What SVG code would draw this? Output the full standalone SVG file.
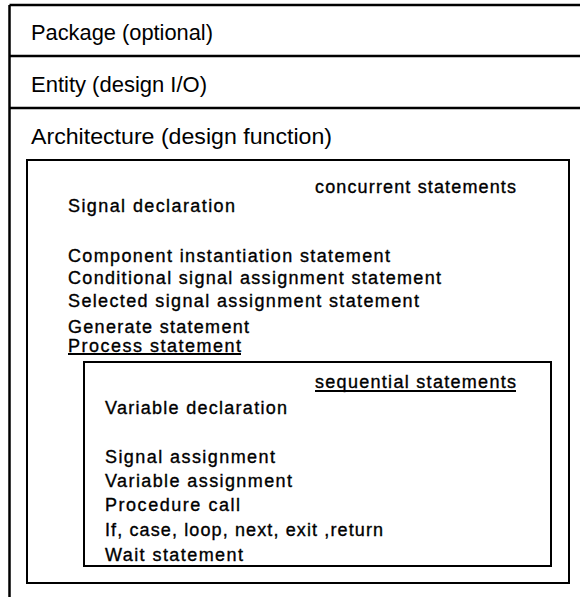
<svg xmlns="http://www.w3.org/2000/svg" width="580" height="597" viewBox="0 0 580 597">
  <style>
    .frame { fill: none; stroke: #000; stroke-width: 2.5; }
    .box { fill: none; stroke: #000; stroke-width: 2; }
    .big { font-family: "Liberation Sans", Arial, sans-serif; font-size: 22px; fill: #000; }
    .small { font-family: "Liberation Sans", Arial, sans-serif; font-size: 18px; fill: #000; stroke: #000; stroke-width: 0.35; }
  </style>
  <rect width="580" height="597" fill="#fff"/>

  <!-- outer frame: left rule plus section separators -->
  <g id="frame">
    <path class="frame" d="M9.5 5 V597 M9.5 5 H580 M9.5 56 H580 M9.5 108 H580"/>
  </g>

  <g id="package">
    <text class="big" x="31" y="40" textLength="182" lengthAdjust="spacingAndGlyphs">Package (optional)</text>
  </g>

  <g id="entity">
    <text class="big" x="31" y="92" textLength="176" lengthAdjust="spacingAndGlyphs">Entity (design I/O)</text>
  </g>

  <g id="architecture">
    <text class="big" x="31" y="144" textLength="301" lengthAdjust="spacingAndGlyphs">Architecture (design function)</text>
    <rect class="box" x="27" y="160" width="542" height="423"/>
    <text class="small" x="315" y="193" textLength="201" lengthAdjust="spacing">concurrent statements</text>
    <text class="small" x="68" y="212" textLength="167" lengthAdjust="spacing">Signal declaration</text>
    <text class="small" x="68" y="262" textLength="322" lengthAdjust="spacing">Component instantiation statement</text>
    <text class="small" x="68" y="284" textLength="373" lengthAdjust="spacing">Conditional signal assignment statement</text>
    <text class="small" x="68" y="307" textLength="351" lengthAdjust="spacing">Selected signal assignment statement</text>
    <text class="small" x="68" y="333" textLength="181" lengthAdjust="spacing">Generate statement</text>
    <text class="small" x="68" y="352" textLength="173" lengthAdjust="spacing">Process statement</text>
    <line class="box" x1="68" y1="354" x2="241" y2="354"/>
  </g>

  <g id="process">
    <rect class="box" x="84" y="362" width="467" height="204"/>
    <text class="small" x="315" y="388" textLength="201" lengthAdjust="spacing">sequential statements</text>
    <line class="box" x1="315" y1="391" x2="516" y2="391"/>
    <text class="small" x="105" y="414" textLength="182" lengthAdjust="spacing">Variable declaration</text>
    <text class="small" x="105" y="463" textLength="170" lengthAdjust="spacing">Signal assignment</text>
    <text class="small" x="105" y="487" textLength="187" lengthAdjust="spacing">Variable assignment</text>
    <text class="small" x="105" y="511" textLength="135" lengthAdjust="spacing">Procedure call</text>
    <text class="small" x="105" y="536" textLength="278" lengthAdjust="spacing">If, case, loop, next, exit ,return</text>
    <text class="small" x="105" y="561" textLength="138" lengthAdjust="spacing">Wait statement</text>
  </g>
</svg>
